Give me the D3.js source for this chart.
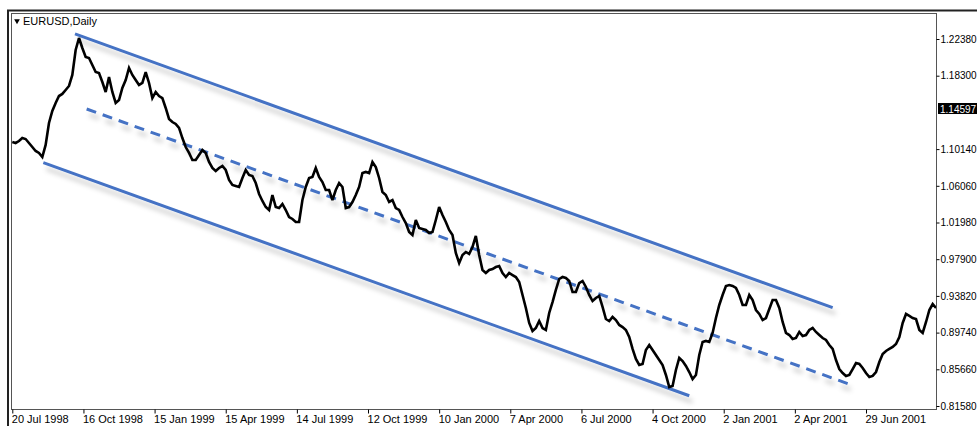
<!DOCTYPE html>
<html>
<head>
<meta charset="utf-8">
<script src="https://cdn.jsdelivr.net/npm/d3@7"></script>
<style>
  html, body { margin: 0; padding: 0; background: #fff; }
  svg { display: block; }
  text { font-family: "Liberation Sans", Arial, sans-serif; }
</style>
</head>
<body>
<svg id="chart" width="977" height="426"></svg>
<script>
// ---- data ----
const symbolTitle = "EURUSD,Daily";
const currentPrice = 1.14597;
// closing prices, one every 3 daily bars, starting 20 Jul 1998
const closes = [
  1.1093,1.1082,1.1104,1.1137,1.1126,1.1082,1.1037,1.0993,1.0971,1.0926,
  1.1060,1.1304,1.1438,1.1527,1.1604,1.1627,1.1671,1.1716,1.1838,1.2116,
  1.2249,1.2138,1.2038,1.2027,1.1949,1.1871,1.1860,1.1760,1.1649,1.1816,
  1.1649,1.1527,1.1560,1.1693,1.1782,1.1916,1.1838,1.1782,1.1727,1.1749,
  1.1871,1.1749,1.1582,1.1649,1.1604,1.1582,1.1471,1.1349,1.1315,1.1293,
  1.1249,1.1137,1.1037,1.0971,1.0893,1.0893,1.0948,1.1004,1.0971,1.0871,
  1.0804,1.0771,1.0804,1.0826,1.0782,1.0671,1.0615,1.0604,1.0593,1.0693,
  1.0782,1.0726,1.0715,1.0637,1.0515,1.0437,1.0370,1.0337,1.0504,1.0370,
  1.0359,1.0404,1.0337,1.0259,1.0237,1.0204,1.0204,1.0448,1.0593,1.0693,
  1.0704,1.0804,1.0704,1.0648,1.0559,1.0559,1.0448,1.0559,1.0637,1.0593,
  1.0359,1.0370,1.0426,1.0504,1.0593,1.0748,1.0760,1.0748,1.0871,1.0815,
  1.0693,1.0537,1.0504,1.0426,1.0448,1.0359,1.0337,1.0259,1.0192,1.0092,
  1.0059,1.0226,1.0137,1.0126,1.0115,1.0081,1.0092,1.0226,1.0370,1.0281,
  1.0204,1.0115,1.0059,0.9859,0.9748,0.9837,0.9870,0.9848,0.9926,1.0048,
  0.9837,0.9670,0.9637,0.9670,0.9681,0.9703,0.9714,0.9637,0.9592,0.9637,
  0.9614,0.9592,0.9537,0.9392,0.9248,0.9081,0.8992,0.9025,0.9103,0.9025,
  0.9003,0.9192,0.9314,0.9448,0.9570,0.9592,0.9581,0.9548,0.9425,0.9425,
  0.9525,0.9548,0.9481,0.9392,0.9325,0.9359,0.9381,0.9259,0.9125,0.9103,
  0.9148,0.9114,0.9059,0.9036,0.9003,0.8925,0.8792,0.8681,0.8614,0.8625,
  0.8781,0.8836,0.8781,0.8725,0.8669,0.8614,0.8503,0.8369,0.8380,0.8558,
  0.8692,0.8658,0.8603,0.8536,0.8458,0.8503,0.8725,0.8870,0.8881,0.8870,
  0.8970,0.9136,0.9281,0.9392,0.9492,0.9503,0.9492,0.9470,0.9392,0.9281,
  0.9281,0.9392,0.9336,0.9225,0.9181,0.9114,0.9136,0.9236,0.9336,0.9336,
  0.9248,0.9092,0.8970,0.8947,0.8903,0.8914,0.8981,0.8936,0.8947,0.9003,
  0.9025,0.8981,0.8947,0.8914,0.8892,0.8836,0.8792,0.8669,0.8569,0.8525,
  0.8492,0.8503,0.8569,0.8636,0.8625,0.8581,0.8525,0.8480,0.8492,0.8536,
  0.8647,0.8736,0.8770,0.8792,0.8814,0.8847,0.8925,0.9081,0.9181,0.9159,
  0.9136,0.9125,0.9003,0.8970,0.9092,0.9225,0.9292,0.9248
];
const barsPerPoint = 3;

const xTickBars   = [0, 64, 128, 192, 256, 320, 384, 448, 512, 576, 640, 704, 768];
const xTickLabels = ["20 Jul 1998","16 Oct 1998","15 Jan 1999","15 Apr 1999","14 Jul 1999",
                     "12 Oct 1999","10 Jan 2000","7 Apr 2000","6 Jul 2000","4 Oct 2000",
                     "2 Jan 2001","2 Apr 2001","29 Jun 2001"];
const yTickValues = [1.22380, 1.18300, 1.10140, 1.06060, 1.01980, 0.97900, 0.93820, 0.89740, 0.85660, 0.81580];

// channel lines: [startBar, startPrice, endBar, endPrice]
const channelUpper = [56.4, 1.2294, 738.0, 0.9251];
const channelLower = [27.9, 1.0863, 609.0, 0.8272];
const channelMid   = [66.9, 1.1460, 755.1, 0.8391];

// ---- layout ----
const plot = { left: 11, top: 13, right: 936, bottom: 409 };
const svg = d3.select("#chart");

const x = d3.scaleLinear().domain([0, 768]).range([12.3, 866]);
const y = d3.scaleLinear().domain([0.8158, 1.2238]).range([406, 39]);

const defs = svg.append("defs");
const f = defs.append("filter").attr("id", "shadow")
  .attr("x", "-10%").attr("y", "-50%").attr("width", "130%").attr("height", "300%");
f.append("feDropShadow").attr("dx", 3).attr("dy", 6).attr("stdDeviation", 2.5)
  .attr("flood-color", "#000").attr("flood-opacity", 0.22);
defs.append("clipPath").attr("id", "plotclip").append("rect")
  .attr("x", plot.left).attr("y", plot.top)
  .attr("width", plot.right - plot.left).attr("height", plot.bottom - plot.top);

// outer window border
svg.append("line").attr("x1", 7).attr("x2", 977).attr("y1", 10.5).attr("y2", 10.5)
  .attr("stroke", "#222").attr("stroke-width", 2);
svg.append("line").attr("x1", 8).attr("x2", 8).attr("y1", 10).attr("y2", 426)
  .attr("stroke", "#222").attr("stroke-width", 2);

// plot frame
svg.append("rect")
  .attr("x", plot.left + 0.5).attr("y", plot.top + 0.5)
  .attr("width", plot.right - plot.left).attr("height", plot.bottom - plot.top)
  .attr("fill", "#fff").attr("stroke", "#555").attr("stroke-width", 1);

// y axis on the right
const yAxis = d3.axisRight(y).tickValues(yTickValues).tickSize(3).tickPadding(1)
  .tickFormat(d => d.toFixed(5));
const gy = svg.append("g").attr("transform", `translate(${plot.right + 0.5},0)`).call(yAxis);
gy.select(".domain").remove();
gy.selectAll(".tick line").attr("stroke", "#000");
gy.selectAll(".tick text").attr("font-size", 10).attr("fill", "#000");

// x axis at the bottom
const xAxis = d3.axisBottom(x).tickValues(xTickBars).tickSize(4).tickPadding(2)
  .tickFormat((d, i) => xTickLabels[i]);
const gx = svg.append("g").attr("transform", `translate(0,${plot.bottom + 0.5})`).call(xAxis);
gx.select(".domain").remove();
gx.selectAll(".tick line").attr("stroke", "#000");
gx.selectAll(".tick text").attr("font-size", 11).attr("fill", "#000")
  .attr("text-anchor", "start").attr("dx", -1);

const pg = svg.append("g").attr("clip-path", "url(#plotclip)");

// channel lines
function chan(c, dashed) {
  pg.append("line")
    .attr("x1", x(c[0])).attr("y1", y(c[1]))
    .attr("x2", x(c[2])).attr("y2", y(c[3]))
    .attr("stroke", "#4472c4").attr("stroke-width", 3)
    .attr("stroke-dasharray", dashed ? "10,7" : null)
    .attr("filter", "url(#shadow)");
}
chan(channelUpper, false);
chan(channelLower, false);
chan(channelMid, true);

// price line
const line = d3.line().x((d, i) => x(i * barsPerPoint)).y(d => y(d));
pg.append("path").datum(closes).attr("d", line)
  .attr("fill", "none").attr("stroke", "#000").attr("stroke-width", 2.6)
  .attr("stroke-linejoin", "miter").attr("stroke-miterlimit", 3);

// title
const tg = svg.append("g");
tg.append("path").attr("d", d3.symbol().type(d3.symbolTriangle).size(14)())
  .attr("transform", "translate(17,21) rotate(180)").attr("fill", "#000");
tg.append("text").attr("x", 23).attr("y", 25).attr("font-size", 11).attr("fill", "#000")
  .text(symbolTitle);

// current price label
const py = y(currentPrice);
svg.append("rect").attr("x", 938).attr("y", py - 6).attr("width", 42).attr("height", 11).attr("fill", "#000");
svg.append("text").attr("x", 940).attr("y", py + 3.5).attr("font-size", 10).attr("fill", "#fff")
  .text(currentPrice.toFixed(5));
</script>
</body>
</html>
